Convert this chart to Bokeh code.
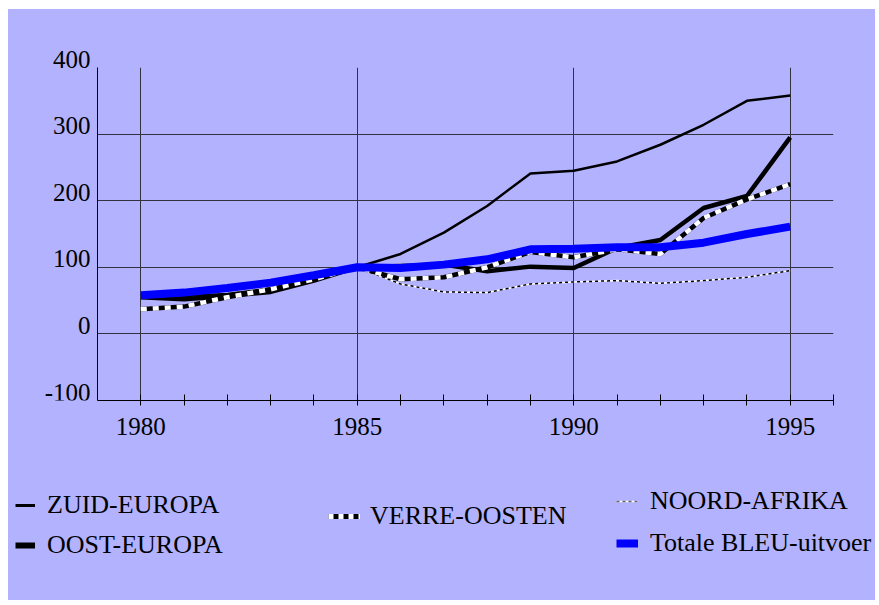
from bokeh.plotting import figure
from bokeh.layouts import column, row
from bokeh.models import (ColumnDataSource, FixedTicker, LabelSet, Legend,
                          LegendItem, Range1d)
from bokeh.embed import file_html
from bokeh.resources import INLINE

# ---- data (index 1985 = 100) ----
years = list(range(1980, 1996))
zuid_europa = [58, 57, 60, 68, 84, 100, 120, 152, 192, 241, 245, 259, 284, 314, 350, 358]
oost_europa = [55, 52, 57, 63, 80, 100, 102, 104, 94, 101, 99, 129, 141, 189, 207, 295]
verre_oosten = [37, 41, 55, 67, 82, 100, 82, 85, 100, 123, 115, 127, 120, 174, 202, 225]
noord_afrika = [55, 56, 60, 68, 84, 100, 75, 63, 62, 75, 78, 80, 76, 80, 85, 95]
totale_bleu = [58, 62, 69, 77, 88, 100, 99, 104, 112, 127, 128, 130, 130, 137, 150, 161]

y_ticks = [-100, 0, 100, 200, 300, 400]
y_tick_labels = ["-100", "0", "100", "200", "300", "400"]
x_label_years = [1980, 1985, 1990, 1995]
x_minor_years = [1981, 1982, 1983, 1984, 1986, 1987, 1988, 1989,
                 1991, 1992, 1993, 1994, 1996]

BG = "#B2B2FF"
FONT = "Liberation Serif"
GRID = "#333340"
TOP, BOTTOM = 58, 61          # chart borders (px)
LAB_TOP = 38                   # label strip border, 20 px higher

p = figure(width=781, height=452, output_backend="svg", toolbar_location=None,
           x_range=Range1d(1979, 1996), y_range=Range1d(y_ticks[0], y_ticks[-1]),
           min_border_left=3, min_border_right=42, min_border_top=TOP,
           min_border_bottom=BOTTOM,
           background_fill_color=BG, border_fill_color=BG,
           outline_line_color=None)

# x axis: labels every 5 years, ticks every year
p.xaxis.ticker = FixedTicker(ticks=x_label_years, minor_ticks=x_minor_years)
p.xaxis.major_tick_in = 6
p.xaxis.major_tick_out = 5
p.xaxis.minor_tick_in = 6
p.xaxis.minor_tick_out = 5
p.xaxis.axis_line_color = "black"
p.xaxis.major_tick_line_color = "black"
p.xaxis.minor_tick_line_color = "black"
p.xaxis.major_label_text_font = FONT
p.xaxis.major_label_text_font_size = "25px"
p.xaxis.major_label_text_color = "black"
p.xaxis.major_label_standoff = 12

# y axis line only (its labels sit on the grid lines, drawn in the strip left)
p.yaxis.ticker = FixedTicker(ticks=[])
p.yaxis.axis_line_color = "black"
p.yaxis.major_tick_out = 0
p.yaxis.major_tick_in = 0
p.yaxis.major_label_standoff = 0
p.yaxis.minor_tick_line_color = None

p.xgrid.ticker = FixedTicker(ticks=x_label_years)
p.ygrid.ticker = FixedTicker(ticks=[t for t in y_ticks if t > y_ticks[0]])
p.xgrid.grid_line_color = GRID
p.ygrid.grid_line_color = GRID

# series
p.line(years, noord_afrika, line_color="white", line_width=1.5)
p.line(years, noord_afrika, line_color="black", line_width=1.5, line_dash="3 3")
p.line(years, zuid_europa, line_color="black", line_width=2.5)
p.line(years, oost_europa, line_color="black", line_width=4.5)
p.line(years, verre_oosten, line_color="black", line_width=4.5)
p.line(years, verre_oosten, line_color="white", line_width=4.5, line_dash="6 6")
p.line(years, totale_bleu, line_color="#0000FF", line_width=8)

# ---- y tick label strip (same vertical scale, baseline on the grid line) ----
span = y_ticks[-1] - y_ticks[0]
extra = span * (TOP - LAB_TOP) / (452 - TOP - BOTTOM)
ylab = figure(width=86, height=452, output_backend="svg", toolbar_location=None,
              x_axis_type=None, y_axis_type=None,
              x_range=Range1d(0, 1),
              y_range=Range1d(y_ticks[0], y_ticks[-1] + extra),
              min_border_left=0, min_border_right=0,
              min_border_top=LAB_TOP, min_border_bottom=BOTTOM,
              background_fill_color=BG, border_fill_color=BG,
              outline_line_color=None)
ylab.xgrid.visible = False
ylab.ygrid.visible = False
ysrc = ColumnDataSource(dict(x=[1] * len(y_ticks), y=y_ticks, text=y_tick_labels))
ylab.add_layout(LabelSet(x="x", y="y", text="text", source=ysrc, x_offset=-4,
                         text_align="right", text_baseline="alphabetic",
                         text_font=FONT, text_font_size="25px",
                         text_color="black"))

# ---- legend panel under the chart (its own full-width frame) ----
q = figure(width=867, height=139, output_backend="svg", toolbar_location=None,
           x_axis_type=None, y_axis_type=None, min_border=0,
           x_range=Range1d(0, 1), y_range=Range1d(0, 1),
           background_fill_color=BG, border_fill_color=BG,
           outline_line_color=None)
q.xgrid.visible = False
q.ygrid.visible = False
for fig in (p, q, ylab):
    try:
        fig.frame_align = False
    except Exception:
        pass

# legend swatches (series lie outside this panel's ranges, so only the keys show)
k_zuid = q.line(years, zuid_europa, line_color="black", line_width=3)
k_oost = q.line(years, oost_europa, line_color="black", line_width=6)
k_verre_b = q.line(years, verre_oosten, line_color="black", line_width=5)
k_verre_w = q.line(years, verre_oosten, line_color="white", line_width=5,
                   line_dash="5 5")
k_noord_w = q.line(years, noord_afrika, line_color="white", line_width=1.5)
k_noord_b = q.line(years, noord_afrika, line_color="#666666", line_width=1.5,
                   line_dash="3 3")
k_tot = q.line(years, totale_bleu, line_color="#0000FF", line_width=8)

common = dict(label_text_font=FONT, label_text_font_size="26px",
              label_text_color="black", glyph_height=20, padding=0, margin=0,
              background_fill_alpha=0, border_line_alpha=0)

leg_a = Legend(items=[LegendItem(label="ZUID-EUROPA", renderers=[k_zuid]),
                      LegendItem(label="OOST-EUROPA", renderers=[k_oost])],
               location=(7, 40), glyph_width=20, label_standoff=12,
               spacing=10, **common)
leg_b = Legend(items=[LegendItem(label="VERRE-OOSTEN",
                                 renderers=[k_verre_b, k_verre_w])],
               location=(320, 69), glyph_width=32, label_standoff=10,
               **common)
leg_c = Legend(items=[LegendItem(label="NOORD-AFRIKA",
                                 renderers=[k_noord_w, k_noord_b]),
                      LegendItem(label="Totale BLEU-uitvoer", renderers=[k_tot])],
               location=(608, 42), glyph_width=22, label_standoff=12,
               spacing=12, **common)
for lg in (leg_a, leg_b, leg_c):
    q.add_layout(lg)

top_row = row(ylab, p, spacing=0)
layout = column(top_row, q, spacing=0)
layout.margin = (9, 4, 5, 8)
try:
    layout.styles = {"background-color": BG}
    top_row.styles = {"background-color": BG}
except Exception:
    pass
open("out.html", "w").write(file_html(layout, INLINE))
